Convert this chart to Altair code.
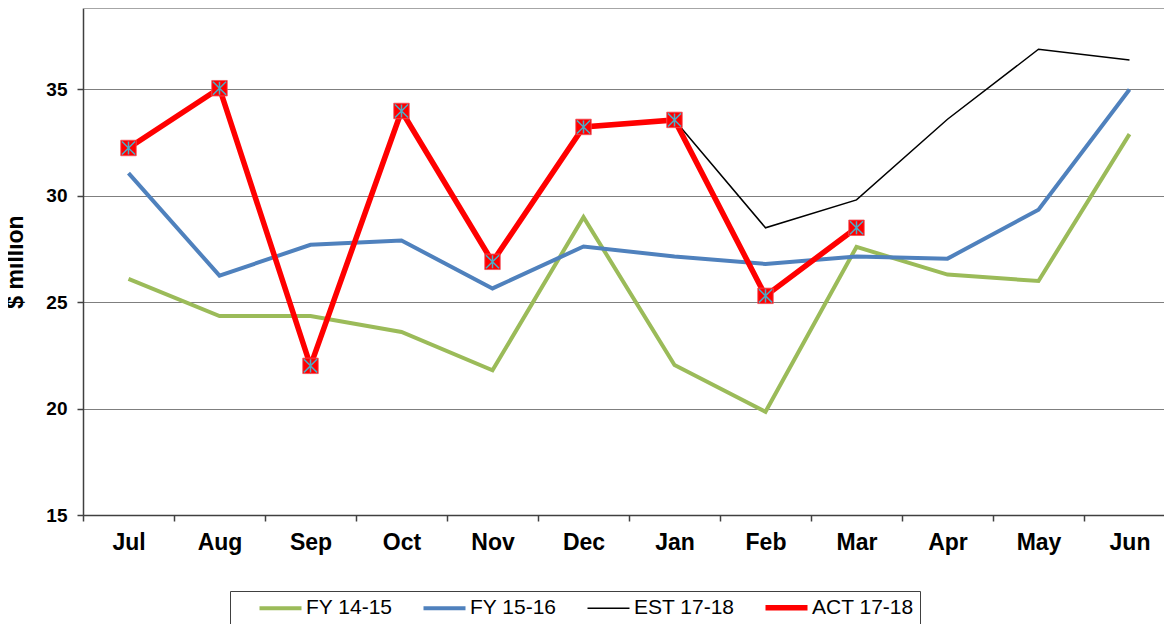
import altair as alt
import pandas as pd

months = ["Jul", "Aug", "Sep", "Oct", "Nov", "Dec", "Jan", "Feb", "Mar", "Apr", "May", "Jun"]
series = ["FY 14-15", "FY 15-16", "EST 17-18", "ACT 17-18"]

fy1415 = [26.1, 24.35, 24.35, 23.6, 21.8, 29.0, 22.05, 19.85, 27.6, 26.3, 26.0, 32.9]
fy1516 = [31.07, 26.25, 27.7, 27.9, 25.65, 27.62, 27.15, 26.8, 27.15, 27.05, 29.35, 35.0]
est1718 = [None, None, None, None, None, None, 33.57, 28.5, 29.81, 33.6, 36.89, 36.39]
act1718 = [32.25, 35.06, 22.01, 33.99, 26.9, 33.24, 33.57, 25.3, 28.5, None, None, None]

colors = ["#9BBB59", "#4F81BD", "#000000", "#FF0000"]
widths = [4, 4, 1.5, 5.5]

rows = []
for name, vals in zip(series, [fy1415, fy1516, est1718, act1718]):
    for m, v in zip(months, vals):
        if v is not None:
            rows.append({"series": name, "month": m, "value": v})
df = pd.DataFrame(rows)

Y_MIN, Y_MAX = 15, 38.83
FONT = "Liberation Sans"

legend = alt.Legend(
    title=None, orient="none", legendX=147, legendY=583, direction="horizontal",
    symbolType="M-4,0H4", symbolSize=110.25, labelFont=FONT, labelFontSize=21,
    labelColor="#000000", labelOffset=15, columnPadding=7, padding=6,
    strokeColor="#404040", symbolOffset=34,
)

x_enc = alt.X(
    "month:N", sort=months, bandPosition=0.5,
    scale=alt.Scale(type="band", domain=months, paddingInner=0, paddingOuter=0, range=[0, 1092]),
    axis=alt.Axis(
        title=None, labelAngle=0, tickBand="extent", grid=False,
        labelFont=FONT, labelFontWeight="bold", labelFontSize=23, labelColor="#000000",
        labelPadding=10, tickSize=6, domainColor="#404040", tickColor="#404040",
        domainWidth=1.5, tickWidth=1.5,
    ),
)
y_enc = alt.Y(
    "value:Q",
    scale=alt.Scale(domain=[Y_MIN, Y_MAX], nice=False, zero=False),
    axis=alt.Axis(
        title="$ million", values=[15, 20, 25, 30, 35], grid=True, gridColor="#7f7f7f",
        gridWidth=1, labelFont=FONT, labelFontWeight="bold", labelFontSize=19,
        labelColor="#000000", labelPadding=10, tickSize=6, domainColor="#404040",
        tickColor="#404040", domainWidth=1.5, tickWidth=1.5,
        titleFont=FONT, titleFontWeight="bold", titleFontSize=23, titleColor="#000000",
        titlePadding=18,
    ),
)
color_enc = alt.Color("series:N", scale=alt.Scale(domain=series, range=colors), legend=legend)
width_enc = alt.StrokeWidth("series:N", scale=alt.Scale(type="ordinal", domain=series, range=widths),
                            legend=legend)

base = alt.Chart(df).encode(x=x_enc, y=y_enc, color=color_enc, strokeWidth=width_enc)

layers = []
for s in series:
    layers.append(base.transform_filter(alt.datum.series == s).mark_line(strokeJoin="miter", strokeCap="butt"))

act = alt.Chart(df).transform_filter(alt.datum.series == "ACT 17-18").encode(x=x_enc, y=y_enc)
squares = act.mark_point(shape="square", filled=True, size=240, color="#FF0000", opacity=1,
                         stroke="#F0505A", strokeWidth=0.8)
stars = act.mark_point(shape="M-1,-1L1,1M-1,1L1,-1M0,-1L0,1", filled=False, size=170,
                       stroke="#4BACC6", strokeWidth=1.5, opacity=1)

top_border = alt.Chart(df).mark_rule(color="#a6a6a6", strokeWidth=1.5).encode(y=alt.datum(Y_MAX))

chart = alt.layer(top_border, *layers, squares, stars).properties(
    width=1081, height=507,
    padding={"left": 75, "top": 0, "right": 0, "bottom": 109},
    autosize=alt.AutoSizeParams(type="none"),
).configure_view(stroke=None).configure(background="#ffffff")

chart.save("out.html", embed_options={"renderer": "svg", "actions": False})
